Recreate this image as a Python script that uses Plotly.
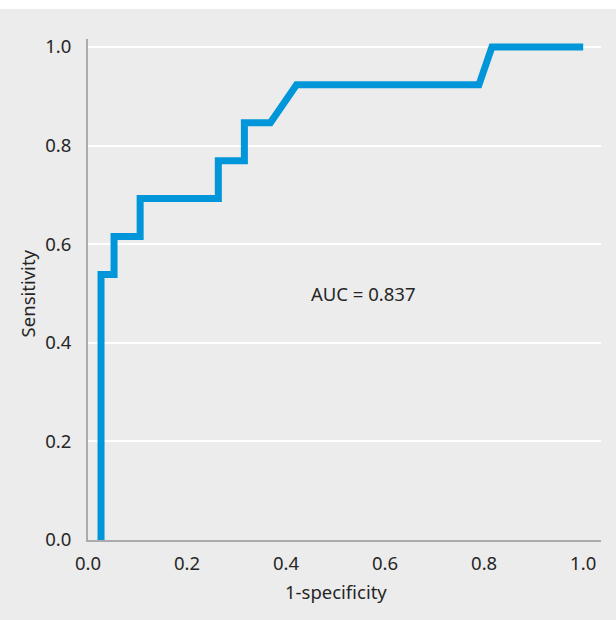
import plotly.graph_objects as go

# ROC curve points (1-specificity, sensitivity)
fpr = [0.0263, 0.0263, 0.0526, 0.0526, 0.1053, 0.1053, 0.2632, 0.2632,
       0.3158, 0.3158, 0.3684, 0.4211, 0.7895, 0.8158, 1.0]
tpr = [0.0, 0.5385, 0.5385, 0.6154, 0.6154, 0.6923, 0.6923, 0.7692,
       0.7692, 0.8462, 0.8462, 0.9231, 0.9231, 1.0, 1.0]

tick_vals = [0.0, 0.2, 0.4, 0.6, 0.8, 1.0]
tick_text = ["0.0", "0.2", "0.4", "0.6", "0.8", "1.0"]
auc_label = "AUC = 0.837"
x_title = "1-specificity"
y_title = "Sensitivity"

BG = "#ebeceb"
FONT = "Noto Sans"
TXT = "#262626"
FS = 18.5

fig = go.Figure()
fig.add_trace(go.Scatter(x=fpr, y=tpr, mode="lines",
                         line=dict(color="#0096d9", width=7),
                         hoverinfo="skip", showlegend=False))

fig.update_layout(
    width=616, height=620,
    margin=dict(l=88, r=15, t=39, b=80),
    paper_bgcolor=BG, plot_bgcolor=BG,
    font=dict(family=FONT, size=FS, color=TXT),
    xaxis=dict(range=[0, 1.036], tickvals=tick_vals, ticktext=tick_text,
               showgrid=False, zeroline=False, showline=True,
               linecolor="#a9aaab", linewidth=2, ticks="",
               ticklabelstandoff=6, fixedrange=True),
    yaxis=dict(range=[0, 1.016], tickvals=tick_vals, ticktext=tick_text,
               showgrid=True, gridcolor="#ffffff", gridwidth=2,
               zeroline=False, showline=True,
               linecolor="#a9aaab", linewidth=2, ticks="",
               ticklabelstandoff=11, fixedrange=True),
    shapes=[dict(type="rect", xref="paper", yref="paper",
                 x0=-0.3, x1=1.1, y0=1.0599, y1=1.2,
                 fillcolor="#ffffff", line=dict(width=0), layer="above")],
    annotations=[
        dict(x=0.556, y=0.50, xref="x", yref="y", text=auc_label,
             xanchor="center", yanchor="middle",
             showarrow=False, font=dict(size=FS, color=TXT)),
        dict(x=0.5, y=-0.102, xref="x", yref="paper", text=x_title,
             xanchor="center", yanchor="middle",
             showarrow=False, font=dict(size=FS, color=TXT)),
        dict(x=-0.119, y=0.5, xref="paper", yref="y", text=y_title,
             xanchor="center", yanchor="middle",
             textangle=-90, showarrow=False, font=dict(size=FS, color=TXT)),
    ],
)

fig.write_html("out.html", config={"displayModeBar": False},
               post_script="document.body.style.margin='0';")
